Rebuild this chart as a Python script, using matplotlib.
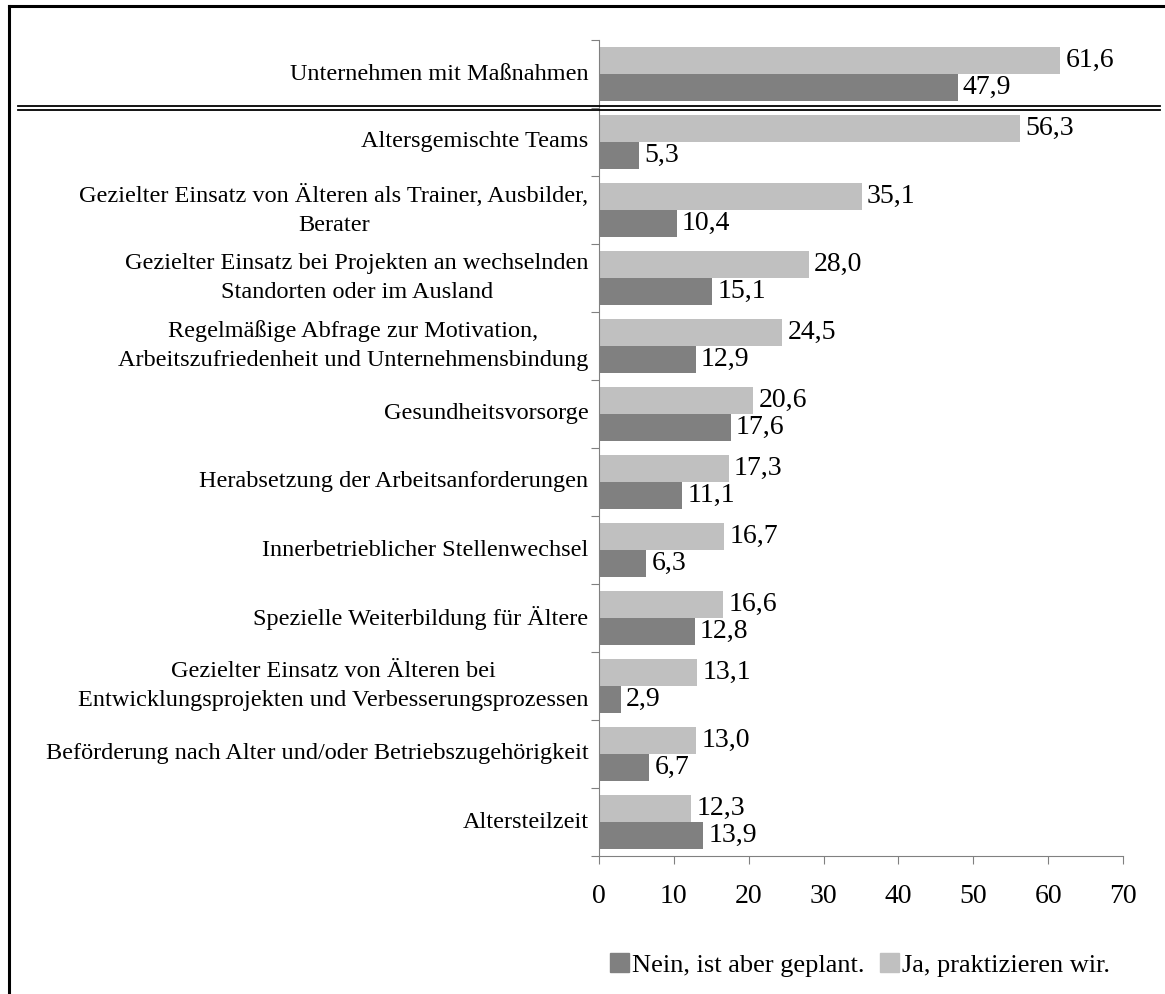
import matplotlib.pyplot as plt
from matplotlib.transforms import blended_transform_factory
from matplotlib.lines import Line2D
from matplotlib.patches import Patch

plt.rcParams['font.family'] = ['Liberation Serif', 'DejaVu Serif']

categories = [
    "Unternehmen mit Maßnahmen",
    "Altersgemischte Teams",
    "Gezielter Einsatz von Älteren als Trainer, Ausbilder,\nBerater",
    "Gezielter Einsatz bei Projekten an wechselnden\nStandorten oder im Ausland",
    "Regelmäßige Abfrage zur Motivation,\nArbeitszufriedenheit und Unternehmensbindung",
    "Gesundheitsvorsorge",
    "Herabsetzung der Arbeitsanforderungen",
    "Innerbetrieblicher Stellenwechsel",
    "Spezielle Weiterbildung für Ältere",
    "Gezielter Einsatz von Älteren bei\nEntwicklungsprojekten und Verbesserungsprozessen",
    "Beförderung nach Alter und/oder Betriebszugehörigkeit",
    "Altersteilzeit",
]
ja_values = [61.6, 56.3, 35.1, 28.0, 24.5, 20.6, 17.3, 16.7, 16.6, 13.1, 13.0, 12.3]
nein_values = [47.9, 5.3, 10.4, 15.1, 12.9, 17.6, 11.1, 6.3, 12.8, 2.9, 6.7, 13.9]
series_names = ["Nein, ist aber geplant.", "Ja, praktizieren wir."]
dark, light = "#808080", "#c0c0c0"

fig = plt.figure(figsize=(11.65, 9.94), dpi=100)
ax = fig.add_axes([599 / 1165, 1 - 856 / 994, 524 / 1165, 816 / 994])

pos = list(range(len(categories)))
h = 0.4
ax.barh([p - h / 2 for p in pos], ja_values, height=h, color=light)
ax.barh([p + h / 2 for p in pos], nein_values, height=h, color=dark)

for p, v in zip(pos, ja_values):
    ax.text(v + 0.7, p - h / 2, f"{v:.1f}".replace(".", ","), va="center", ha="left", fontsize=20)
for p, v in zip(pos, nein_values):
    ax.text(v + 0.7, p + h / 2, f"{v:.1f}".replace(".", ","), va="center", ha="left", fontsize=20)

ax.set_xlim(0, 70)
ax.set_ylim(len(categories) - 0.5, -0.5)
ax.set_xticks(range(0, 71, 10))
ax.tick_params(axis="x", labelsize=20, direction="out", length=6, color="#808080", pad=14)

# category labels at centers, ticks at band edges
ax.set_yticks([p - 0.5 for p in pos] + [len(pos) - 0.5])
ax.set_yticklabels([])
ax.tick_params(axis="y", direction="out", length=6, color="#808080")
for p, c in zip(pos, categories):
    ax.text(-1.4, p, c, ha="right", va="center", multialignment="center",
            fontsize=17.5, linespacing=1.5)

for s in ["top", "right"]:
    ax.spines[s].set_visible(False)
for s in ["left", "bottom"]:
    ax.spines[s].set_color("#808080")

# double separator line below first category
tr = blended_transform_factory(fig.transFigure, ax.transData)
for dy in (0.47, 0.53):
    fig.add_artist(Line2D([18 / 1165, 1160 / 1165], [dy, dy], transform=tr, color="black", lw=1.3))

# frame lines on top and left
fig.add_artist(Line2D([9 / 1165, 1], [1 - 6 / 994, 1 - 6 / 994], color="black", lw=2.2))
fig.add_artist(Line2D([9 / 1165, 9 / 1165], [0, 1 - 6 / 994], color="black", lw=2.2))

handles = [Patch(color=dark), Patch(color=light)]
fig.legend(handles, series_names, loc="center", bbox_to_anchor=(860 / 1165, 1 - 965 / 994),
           ncol=2, frameon=False, fontsize=19, handlelength=0.75, handleheight=0.75,
           handletextpad=0.12, columnspacing=0.55)

fig.savefig("out.png", dpi=100)
